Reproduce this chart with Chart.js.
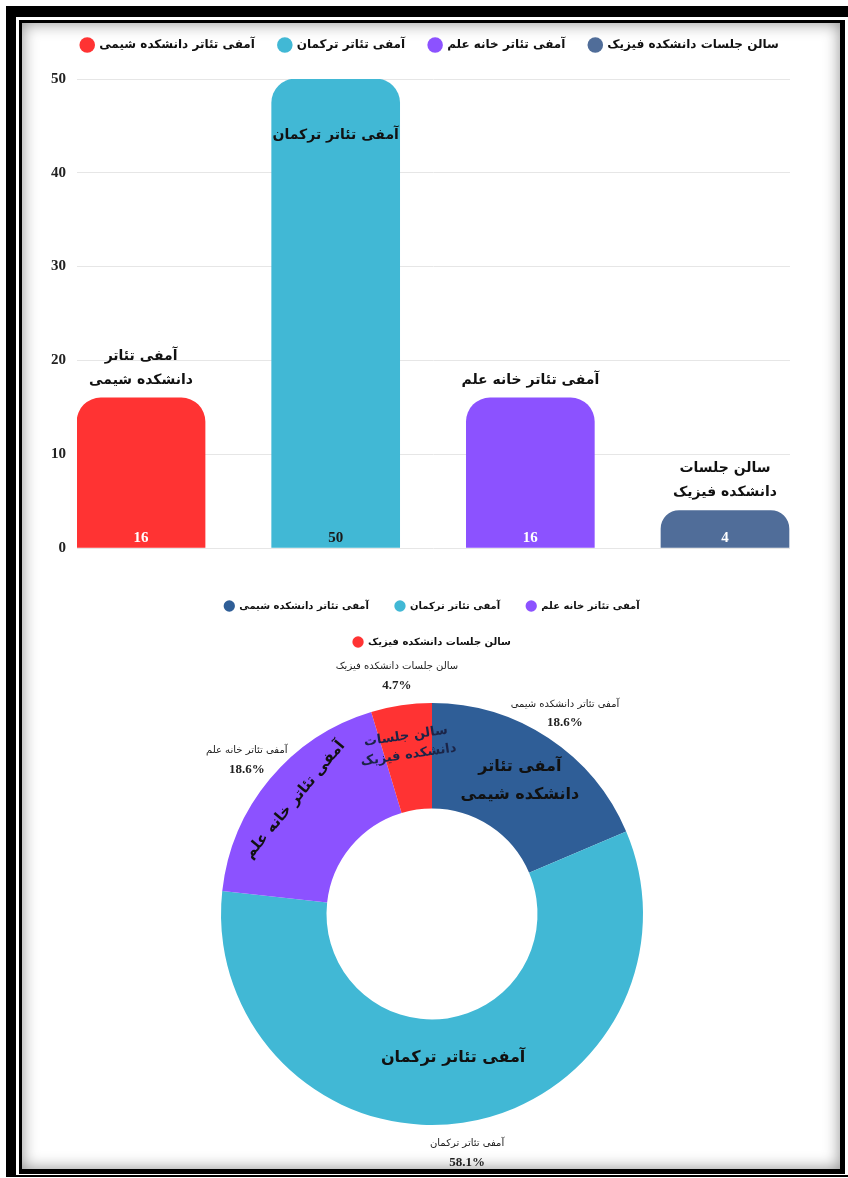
<!DOCTYPE html>
<html>
<head>
<meta charset="utf-8">
<script src="https://cdn.jsdelivr.net/npm/chart.js@4.4.0/dist/chart.umd.min.js"></script>
<style>
html, body { margin: 0; padding: 0; background: #fff; width: 848px; height: 1178px; overflow: hidden; }
.outer { position: absolute; left: 6px; top: 6px; width: 870px; height: 1171px; box-sizing: border-box;
  border-style: solid; border-color: #000; border-width: 11px 0 2px 10px; }
.inner { position: absolute; left: 19px; top: 20px; width: 826px; height: 1154px; box-sizing: border-box;
  border-style: solid; border-color: #000; border-width: 3px 5px 5px 3px; box-shadow: inset 0 0 16px rgba(0,0,0,.45); }
#barBox { position: absolute; left: 23px; top: 3px; width: 814px; height: 549px; overflow: hidden; }
#pieBox { position: absolute; left: 23px; top: 575px; width: 818px; height: 600px; }
</style>
</head>
<body>
<div class="outer"></div>
<div class="inner"></div>
<div id="barBox"><canvas id="bar" width="814" height="570"></canvas></div>
<div id="pieBox"><canvas id="pie" width="818" height="600"></canvas></div>
<script>
var barNames = ['آمفی تئاتر دانشکده شیمی', 'آمفی تئاتر ترکمان', 'آمفی تئاتر خانه علم', 'سالن جلسات دانشکده فیزیک'];
var barLines = [['آمفی تئاتر', 'دانشکده شیمی'], ['آمفی تئاتر ترکمان'], ['آمفی تئاتر خانه علم'], ['سالن جلسات', 'دانشکده فیزیک']];
var barValues = [16, 50, 16, 4];
var barColors = ['#FF3333', '#41B8D5', '#8C52FF', '#506D99'];
var yTicks = [0, 10, 20, 30, 40, 50];

var pieNames = ['آمفی تئاتر دانشکده شیمی', 'آمفی تئاتر ترکمان', 'آمفی تئاتر خانه علم', 'سالن جلسات دانشکده فیزیک'];
var pieLines = [['آمفی تئاتر', 'دانشکده شیمی'], ['آمفی تئاتر ترکمان'], ['آمفی تئاتر خانه علم'], ['سالن جلسات', 'دانشکده فیزیک']];
var pieValues = [16, 50, 16, 4];
var pieColors = ['#2F5E97', '#41B8D5', '#8C52FF', '#FF3333'];

var faFont = '"DejaVu Sans", sans-serif';
var numFont = '"Liberation Serif", serif';

// extra room under the bar legend
var legendGap = {
	id: 'legendGap',
	beforeInit: function(chart) {
		var fit = chart.legend.fit;
		chart.legend.fit = function() {
			fit.bind(chart.legend)();
			this.height += 18;
		};
	}
};

var barLabels = {
	id: 'barLabels',
	afterDatasetsDraw: function(chart) {
		var ctx = chart.ctx;
		chart.getDatasetMeta(0).data.forEach(function(bar, i) {
			ctx.save();
			ctx.textAlign = 'center';
			ctx.textBaseline = 'middle';
			ctx.font = 'bold 15px ' + numFont;
			ctx.fillStyle = i == 1 ? '#1a1a1a' : '#ffffff';
			ctx.fillText(barValues[i], bar.x, bar.base - 9);

			ctx.font = 'bold 14px ' + faFont;
			ctx.fillStyle = '#111';
			var lines = barLines[i];
			var y = bar.y - 18 - (lines.length - 1) * 24;
			if (y - 10 < chart.chartArea.top) y = bar.y + 56;
			lines.forEach(function(t, k) {
				ctx.fillText(t, bar.x, y + k * 24);
			});
			ctx.restore();
		});
	}
};

var pieRotate = [false, false, true, true];
var pieSize = [16, 16, 15, 13];
var pieLh = [28, 24, 24, 19];
var pieShift = [1, -13, 20, 12];
var total = pieValues.reduce(function(a, b) { return a + b; }, 0);

var pieLabels = {
	id: 'pieLabels',
	afterDatasetsDraw: function(chart) {
		var ctx = chart.ctx;
		chart.getDatasetMeta(0).data.forEach(function(arc, i) {
			var p = arc.getProps(['x', 'y', 'startAngle', 'endAngle', 'innerRadius', 'outerRadius'], true);
			var mid = (p.startAngle + p.endAngle) / 2;
			var r = (p.innerRadius + p.outerRadius) / 2 + pieShift[i];
			ctx.save();
			ctx.translate(p.x + Math.cos(mid) * r, p.y + Math.sin(mid) * r);
			if (pieRotate[i]) ctx.rotate(mid + Math.PI / 2);
			ctx.textAlign = 'center';
			ctx.textBaseline = 'middle';
			ctx.font = 'bold ' + pieSize[i] + 'px ' + faFont;
			ctx.fillStyle = i == 3 ? '#1b2447' : '#111';
			var lines = pieLines[i];
			var y0 = -(lines.length - 1) * pieLh[i] / 2;
			lines.forEach(function(t, k) { ctx.fillText(t, 0, y0 + k * pieLh[i]); });
			ctx.restore();

			var ro = p.outerRadius + 30;
			var ox = p.x + Math.cos(mid) * ro, oy = p.y + Math.sin(mid) * ro;
			ctx.save();
			ctx.textAlign = 'center';
			ctx.textBaseline = 'middle';
			ctx.fillStyle = '#222';
			ctx.font = '10px ' + faFont;
			ctx.fillText(pieNames[i], ox, oy - 9);
			ctx.font = 'bold 13px ' + numFont;
			ctx.fillText((pieValues[i] / total * 100).toFixed(1) + '%', ox, oy + 10);
			ctx.restore();
		});
	}
};

new Chart(document.getElementById('bar'), {
	type: 'bar',
	data: {
		datasets: [{
			data: barValues.map(function(v, i) { return {x: i, y: v}; }),
			backgroundColor: barColors,
			borderRadius: 24,
			borderSkipped: 'start',
			barThickness: 128
		}]
	},
	options: {
		responsive: false,
		animation: false,
		layout: { padding: {left: 0, right: 0, top: 12, bottom: 25} },
		scales: {
			x: { type: 'linear', min: -0.329, max: 3.334, offset: false, display: false },
			y: {
				min: 0, max: 50,
				afterBuildTicks: function(s) { s.ticks = yTicks.map(function(v) { return {value: v}; }); },
				afterFit: function(s) { s.width = 54; },
				grid: { color: '#e6e6e6', drawTicks: false },
				border: { display: false },
				ticks: { padding: 11, color: '#222', font: { family: numFont, size: 15, weight: 'bold' } }
			},
			y2: {
				position: 'right',
				afterFit: function(s) { s.width = 47; },
				grid: { display: false },
				border: { display: false },
				ticks: { display: false }
			}
		},
		plugins: {
			tooltip: { enabled: false },
			legend: {
				labels: {
					usePointStyle: true,
					boxHeight: 11,
					padding: 24,
					color: '#111',
					font: { family: faFont, size: 12, weight: 'bold' },
					generateLabels: function() {
						return barNames.map(function(n, i) {
							return { text: n, fillStyle: barColors[i], strokeStyle: barColors[i], lineWidth: 0,
								pointStyle: 'circle', hidden: false, index: i, datasetIndex: 0, fontColor: '#111' };
						});
					}
				}
			}
		}
	},
	plugins: [legendGap, barLabels]
});

new Chart(document.getElementById('pie'), {
	type: 'doughnut',
	data: {
		labels: pieNames,
		datasets: [{
			data: pieValues,
			backgroundColor: pieColors,
			borderWidth: 0,
			radius: 211,
			cutout: '50%'
		}]
	},
	options: {
		responsive: false,
		animation: false,
		layout: { padding: {left: 150, right: 150, top: 0, bottom: 4} },
		plugins: {
			tooltip: { enabled: false },
			legend: {
				labels: {
					usePointStyle: true,
					boxHeight: 8,
					padding: 26,
					color: '#111',
					font: { family: faFont, size: 10, weight: 'bold' }
				}
			}
		}
	},
	plugins: [pieLabels]
});
</script>
</body>
</html>
